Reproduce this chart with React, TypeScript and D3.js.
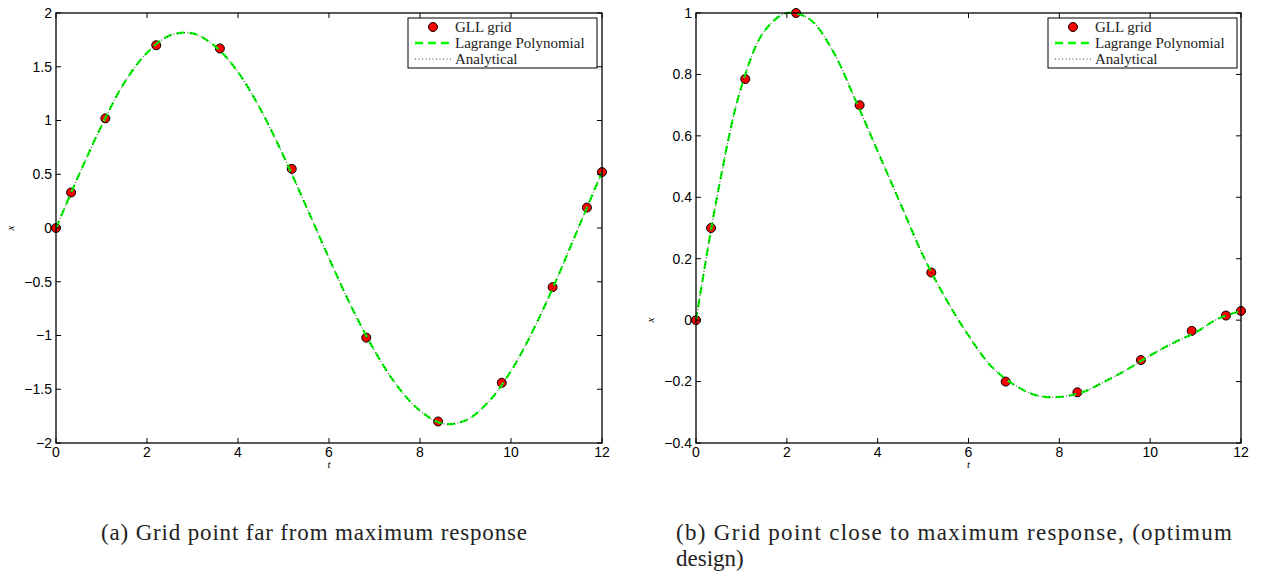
import React from "react";
import * as d3 from "d3";

// GLL grid times (shared by both panels)
const tGLL = [0, 0.331, 1.085, 2.203, 3.602, 5.181, 6.819, 8.398, 9.797, 10.915, 11.669, 12];
// Panel (a) values at the GLL points
const xGLLa = [0, 0.33, 1.02, 1.7, 1.67, 0.55, -1.02, -1.8, -1.44, -0.55, 0.19, 0.52];
// Panel (b) values at the GLL points
const xGLLb = [0, 0.3, 0.785, 1.0, 0.7, 0.155, -0.2, -0.235, -0.13, -0.035, 0.015, 0.03];

// Continuous response, read every 0.5 in t
const tCurve = [0, 0.5, 1, 1.5, 2, 2.5, 3, 3.5, 4, 4.5, 5, 5.5, 6, 6.5, 7, 7.5, 8, 8.5, 9, 9.5, 10, 10.5, 11, 11.5, 12];
const xCurveA = [0, 0.49, 0.95, 1.35, 1.63, 1.79, 1.81, 1.69, 1.45, 1.1, 0.67, 0.2, -0.28, -0.74, -1.14, -1.47, -1.7, -1.82, -1.79, -1.62, -1.33, -0.94, -0.48, 0.02, 0.52];
const xCurveB = [0, 0.43, 0.76, 0.94, 1.0, 0.98, 0.88, 0.72, 0.55, 0.38, 0.21, 0.07, -0.05, -0.15, -0.21, -0.245, -0.25, -0.235, -0.2, -0.16, -0.115, -0.075, -0.04, 0.005, 0.03];

const xTicks = [0, 2, 4, 6, 8, 10, 12];
const yTicksA = [-2, -1.5, -1, -0.5, 0, 0.5, 1, 1.5, 2];
const yTicksB = [-0.4, -0.2, 0, 0.2, 0.4, 0.6, 0.8, 1];
const legendLabels = ["GLL grid", "Lagrange Polynomial", "Analytical"];

const fmt = (v: number) => String(v).replace("-", "\u2212");

const SANS = { fontFamily: "Liberation Sans, Arial, Helvetica, sans-serif" };
const SERIF = { fontFamily: "Liberation Serif, Times New Roman, DejaVu Serif, serif" };

type PanelProps = {
  left: number;
  right: number;
  yDomain: [number, number];
  yTicks: number[];
  pts: number[];
  curve: number[];
  legendX: number;
};

function Panel({ left, right, yDomain, yTicks, pts, curve, legendX }: PanelProps) {
  const top = 13;
  const bottom = 443;
  const x = d3.scaleLinear().domain([0, 12]).range([left, right]);
  const y = d3.scaleLinear().domain(yDomain).range([bottom, top]);
  const line = d3
    .line<number>()
    .x((_, i) => x(tCurve[i]))
    .y((d) => y(d))
    .curve(d3.curveCatmullRom.alpha(0.5));
  const path = line(curve) || "";
  const tk = 5;
  const lx = legendX;
  const ly = 18;
  return (
    <g>
      {tGLL.map((t, i) => (
        <circle key={i} cx={x(t)} cy={y(pts[i])} r={4.5} fill="#ff0000" stroke="#000" strokeWidth={1} />
      ))}
      <path d={path} fill="none" stroke="#00ff00" strokeWidth={2.2} strokeDasharray="8,5" />
      <path d={path} fill="none" stroke="#000" strokeWidth={0.8} strokeDasharray="1,2.5" />
      <rect x={left} y={top} width={right - left} height={bottom - top} fill="none" stroke="#000" strokeWidth={1.3} />
      {xTicks.map((t) => (
        <g key={"x" + t}>
          <line x1={x(t)} x2={x(t)} y1={bottom} y2={bottom - tk} stroke="#000" strokeWidth={1} />
          <line x1={x(t)} x2={x(t)} y1={top} y2={top + tk} stroke="#000" strokeWidth={1} />
          <text x={x(t)} y={457} textAnchor="middle" style={SANS} fontSize={14} fill="#000">
            {fmt(t)}
          </text>
        </g>
      ))}
      {yTicks.map((v) => (
        <g key={"y" + v}>
          <line x1={left} x2={left + tk} y1={y(v)} y2={y(v)} stroke="#000" strokeWidth={1} />
          <line x1={right} x2={right - tk} y1={y(v)} y2={y(v)} stroke="#000" strokeWidth={1} />
          <text x={left - 4} y={y(v)} dy="0.35em" textAnchor="end" style={SANS} fontSize={14} fill="#000">
            {fmt(v)}
          </text>
        </g>
      ))}
      <text x={(left + right) / 2} y={468} textAnchor="middle" style={SERIF} fontStyle="italic" fontSize={11}>
        t
      </text>
      <text
        transform={`translate(${left - 42},${y(0)}) rotate(-90)`}
        textAnchor="middle"
        style={SERIF}
        fontStyle="italic"
        fontSize={11}
      >
        x
      </text>
      <rect x={lx} y={ly} width={189} height={50} fill="#fff" stroke="#000" strokeWidth={1} />
      <circle cx={lx + 25} cy={ly + 9} r={4.5} fill="#ff0000" stroke="#000" strokeWidth={1} />
      <line x1={lx + 7} x2={lx + 44} y1={ly + 25} y2={ly + 25} stroke="#00ff00" strokeWidth={2.4} strokeDasharray="8,5" />
      <line x1={lx + 7} x2={lx + 44} y1={ly + 41} y2={ly + 41} stroke="#000" strokeWidth={0.8} strokeDasharray="1,2.5" />
      {legendLabels.map((l, i) => (
        <text key={l} x={lx + 47} y={ly + 9 + i * 16} dy="0.35em" style={SERIF} fontSize={15} fill="#222">
          {l}
        </text>
      ))}
    </g>
  );
}

export default function App() {
  return (
    <svg width={1265} height={577} style={{ position: "absolute", left: 0, top: 0, background: "#fff" }}>
      <Panel left={56} right={602} yDomain={[-2, 2]} yTicks={yTicksA} pts={xGLLa} curve={xCurveA} legendX={408} />
      <Panel left={696} right={1241} yDomain={[-0.4, 1]} yTicks={yTicksB} pts={xGLLb} curve={xCurveB} legendX={1048} />
      <text x={101} y={540} style={SERIF} fontSize={23} fill="#222" textLength={426} lengthAdjust="spacing">
        (a) Grid point far from maximum response
      </text>
      <text x={676} y={540} style={SERIF} fontSize={23} fill="#222" textLength={556} lengthAdjust="spacing">
        (b) Grid point close to maximum response, (optimum
      </text>
      <text x={676} y={566} style={SERIF} fontSize={23} fill="#222">
        design)
      </text>
    </svg>
  );
}
